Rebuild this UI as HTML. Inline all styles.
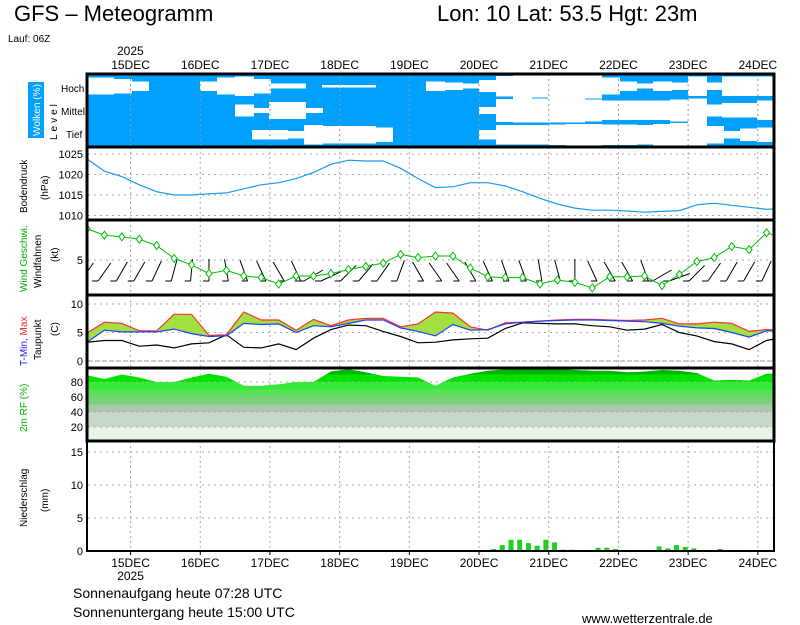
<!DOCTYPE html>
<html><head><meta charset="utf-8"><style>
html,body{margin:0;padding:0;background:#fff}
svg{display:block;font-family:"Liberation Sans",sans-serif}
</style></head><body>
<svg id="chart" width="800" height="625" viewBox="0 0 800 625" xmlns="http://www.w3.org/2000/svg">
<defs>
<clipPath id="plotclip"><rect x="88" y="74" width="685" height="478"/></clipPath>
</defs>
<text x="14" y="21" font-size="22">GFS – Meteogramm</text>
<text x="437" y="21" font-size="22">Lon: 10 Lat: 53.5 Hgt: 23m</text>
<text x="8" y="42" font-size="10">Lauf: 06Z</text>
<text x="117" y="55" font-size="12">2025</text>
<g id="labels-left" font-size="11">
<rect x="28" y="82" width="16" height="56" fill="#00a0ff"/>
<text transform="translate(40,136) rotate(-90)" fill="#fff" font-size="10" textLength="52" lengthAdjust="spacingAndGlyphs">Wolken (%)</text>
<text transform="translate(57,140) rotate(-90)" letter-spacing="3" font-size="10">Level</text>
<text x="61" y="92" font-size="10">Hoch</text>
<text x="61" y="115" font-size="10" textLength="24" lengthAdjust="spacingAndGlyphs">Mittel</text>
<text x="66" y="138" font-size="10">Tief</text>
<text transform="translate(27,213) rotate(-90)" font-size="10">Bodendruck</text>
<text transform="translate(48,200) rotate(-90)" font-size="10">(hPa)</text>
<text transform="translate(27,292) rotate(-90)" fill="#00b000" font-size="10">Wind Geschwi.</text>
<text transform="translate(41,288) rotate(-90)" font-size="10">Windfahnen</text>
<text transform="translate(58,262) rotate(-90)" font-size="10">(kt)</text>
<text transform="translate(27,366) rotate(-90)" font-size="10"><tspan fill="#2020ff">T-Min, </tspan><tspan fill="#ff2020">Max</tspan></text>
<text transform="translate(41,360) rotate(-90)" font-size="10">Taupunkt</text>
<text transform="translate(58,336) rotate(-90)" font-size="10">(C)</text>
<text transform="translate(27,432) rotate(-90)" fill="#00b000" font-size="10">2m RF (%)</text>
<text transform="translate(27,527) rotate(-90)" font-size="10">Niederschlag</text>
<text transform="translate(48,512) rotate(-90)" font-size="10">(mm)</text>
</g>
<g id="plots" clip-path="url(#plotclip)"></g>
<g id="axes"></g>
<text x="73" y="598" font-size="14">Sonnenaufgang heute 07:28 UTC</text>
<text x="73" y="617" font-size="14">Sonnenuntergang heute 15:00 UTC</text>
<text x="582" y="623" font-size="13">www.wetterzentrale.de</text>
</svg>
<script>
const hours = [0,6,12,18,24,30,36,42,48,54,60,66,72,78,84,90,96,102,108,114,120,126,132,138,144,150,156,162,168,174,180,186,192,198,204,210,216,222,228,234,240];
const dayLabels = ['15DEC','16DEC','17DEC','18DEC','19DEC','20DEC','21DEC','22DEC','23DEC','24DEC'];
const dayHours = [15,39,63,87,111,135,159,183,207,231];
const cloudHigh = [.3,.3,.4,.6,1,1,1,.6,.3,.2,.4,.8,.8,1,.9,.9,.9,1,1,1,.6,.7,.8,.5,.15,0,.05,0,0,0,.3,.6,.8,.6,.7,.2,.7,.2,.2,.2,.2];
const cloudMid = [1,1,1,1,1,1,1,1,1,.5,.8,.3,.3,.8,1,1,1,1,1,1,1,1,1,.7,.05,0,0,0,0,.1,.2,.2,.2,.2,.1,0,.5,.4,.4,.2,.2];
const cloudLow = [1,1,1,1,1,1,1,1,1,1,.6,.6,.7,.2,.3,.3,.3,.4,1,1,1,1,1,.6,.2,.2,.2,.15,.1,.1,.15,.15,.2,.1,.05,0,.3,.7,.5,.4,.4];
const pressure = [1023.8,1020.8,1019.5,1017.5,1015.8,1015,1015,1015.3,1015.5,1016.5,1017.5,1018,1019,1020.5,1022.5,1023.5,1023.3,1023.3,1021.5,1019,1016.8,1017,1018,1018,1017.2,1015.8,1014.2,1012.8,1011.8,1011.3,1011.3,1011.1,1010.8,1011,1011.2,1012.6,1013,1012.5,1012,1011.5,1011.8];
const pressureTicks = [1025,1020,1015,1010];
const windSpeed = [8.9,8.1,7.9,7.6,6.8,5.2,4.4,3.3,3.7,3,2.8,2,3,3,3.3,3.8,4.2,4.6,5.7,5.3,5.5,5.5,4,2.9,2.8,2.8,2,2.5,2.2,1.5,2.9,2.9,3,1.8,3.2,4.8,5.3,6.7,6.3,8.4,7.7];
const windLean = [35,35,30,30,25,15,5,0,-10,-20,-25,-30,-25,60,65,45,40,35,20,-30,-35,-35,-30,-25,-20,-20,-10,-15,0,-25,-30,-30,-20,60,70,45,35,30,30,25,25];
const windTicks = [5];
const tMax = [4.9,6.8,6.6,5.3,5.3,8.2,8.2,4.5,4.6,8.6,7.2,7.2,5.4,7.3,6.2,7.2,7.5,7.5,6,6.5,8.6,8.4,6,5.4,6.7,6.8,7,7.2,7.3,7.3,7.2,7.1,7.2,7.5,6.5,6.5,6.8,6.6,5.2,5.5,5.4];
const tMin = [3.3,5.4,5.1,5.1,5.1,5.6,4.8,4.3,4.4,6.6,6.4,6.5,5,6.2,6,6.6,7.2,7.2,5.8,5.2,4.4,6.4,5.4,5.5,6.5,6.8,7,7.1,7.2,7.2,7.1,7,6.9,6.6,6.1,5.8,5.7,5,4.2,5.3,5.2];
const dewPoint = [3.3,3.6,3.6,2.6,2.8,2.3,3.0,3.2,4.6,2.4,2.3,3.0,2.0,4.0,5.5,6.3,6.2,5.2,4.3,3.2,3.3,3.7,3.9,4.0,5.7,6.7,6.6,6.5,6.5,6.2,6.0,5.4,5.6,6.4,5.0,4.4,3.4,3.0,2.0,3.6,4.2];
const tempTicks = [10,5,0];
const relHum = [89,84,90,86,80,80,86,91,87,75,75,77,80,80,94,97,93,88,87,86,75,86,91,95,97,98,99,98,96,95,95,93,94,96,95,92,82,83,82,91,91];
const rhTicks = [80,60,40,20];
const precipHours = [140,143,146,149,152,155,158,161,164,167,176,179,182,197,200,203,206,209,215,218,221,224];
const precipVals = [0.3,0.9,1.7,1.7,1.2,0.8,1.7,1.3,0.2,0.2,0.5,0.5,0.3,0.7,0.4,0.9,0.6,0.4,0.1,0.3,0.1,0.1];
const precipType = ['r','r','r','r','r','r','r','r','r','r','r','r','r','r','r','r','r','r','s','s','s','s'];
const precipTicks = [15,10,5,0];

const NS='http://www.w3.org/2000/svg';
const plots=document.getElementById('plots');
const axes=document.getElementById('axes');
function mk(tag,attrs,parent){const e=document.createElementNS(NS,tag);for(const k in attrs)e.setAttribute(k,attrs[k]);(parent||plots).appendChild(e);return e;}
const X=h=>87+h*2.904;
const yP=p=>154+(1025-p)*4.1;
const yW=v=>300-8*v;
const yT=t=>361-5.7*t;
const yR=r=>442-0.75*r;
const yPr=m=>551-6.6*m;
const panels=[[74,147],[147,220],[220,295],[295,368],[368,441],[441,551]];

// clouds: blue background, white gaps centered in each layer
const cbg=mk('rect',{x:87,y:74,width:687,height:73,fill:'#00a0ff'});


const cg=mk('g',{'shape-rendering':'crispEdges'});


const layers=[cloudHigh,cloudMid,cloudLow];
const lnames=['high','mid','low'];
layers.forEach((arr,li)=>{
  const top=74+li*24.3, H=24.3, c=top+H/2;
  arr.forEach((v,i)=>{
    const x0=Math.floor(X(hours[i])-8.7), w=19, h=(1-v)*H;
    const r=mk('rect',{x:x0,y:c-h/2,width:w,height:h,fill:'#fff'},cg);
    
    
  });
});
// gridlines
panels.forEach(([a,b],pi)=>{
  dayHours.forEach(h=>{
    const l=mk('line',{x1:X(h),x2:X(h),y1:a,y2:b,stroke:pi==0?'#999':'#aaa','stroke-dasharray':'2,3'});
    
    
  });
});
function hgrid(vals,fy,name,special){
  vals.forEach(v=>{
    const l=mk('line',{x1:88,x2:773,y1:fy(v),y2:fy(v),stroke:(special&&v===0)?'#999':'#aaa','stroke-dasharray':(special&&v===0)?'5,2':'2,4'});
    
    
  });
}
hgrid(pressureTicks,yP,'pressure');hgrid(windTicks,yW,'wind');hgrid(tempTicks,yT,'temp',true);
function pts(arr,fy){return arr.map((v,i)=>X(hours[i]).toFixed(1)+','+fy(v).toFixed(1)).join(' ');}
// pressure
const pl=mk('polyline',{points:pts(pressure,yP),fill:'none',stroke:'#1a9af0','stroke-width':1.2});


// wind barbs
windLean.forEach((d,i)=>{
  const x=X(hours[i]), rad=d*Math.PI/180;
  const bx=x-11*Math.sin(rad), by=281, tx=x+11*Math.sin(rad), ty=281-22*Math.cos(rad);
  const g=mk('g',{});
  
  
  mk('line',{x1:bx,y1:by,x2:tx,y2:ty,stroke:'#000','stroke-width':1},g);
  mk('line',{x1:bx,y1:by,x2:bx-6,y2:by,stroke:'#000','stroke-width':1},g);
});
const wl=mk('polyline',{points:pts(windSpeed,yW),fill:'none',stroke:'#00c000','stroke-width':1});


windSpeed.forEach((v,i)=>{
  const x=X(hours[i]),y=yW(v);
  const m=mk('polygon',{points:`${x},${y-4} ${x+3},${y} ${x},${y+4} ${x-3},${y}`,fill:'#fff',stroke:'#00c000'});
  
  
});
// temperature
const band=mk('polygon',{points:pts(tMax,yT)+' '+tMin.map((v,i)=>[X(hours[i]).toFixed(1),yT(v).toFixed(1)].join(',')).reverse().join(' '),fill:'#a0e040'});


const dl=mk('polyline',{points:pts(dewPoint,yT),fill:'none',stroke:'#000','stroke-width':1.2});


const mxl=mk('polyline',{points:pts(tMax,yT),fill:'none',stroke:'#ff3030','stroke-width':1.2});


const mnl=mk('polyline',{points:pts(tMin,yT),fill:'none',stroke:'#2040ff','stroke-width':1.2});


// RH
const cp=mk('clipPath',{id:'rhclip'});
mk('polygon',{points:X(hours[0])+','+yR(0)+' '+pts(relHum,yR)+' '+X(hours[hours.length-1])+','+yR(0)},cp);
const rg=mk('g',{'clip-path':'url(#rhclip)'});


[[0,20,'#e8f4e8'],[20,40,'#c8d8c8'],[40,50,'#a8c8a8'],[50,60,'#78d078'],[60,70,'#58e058'],[70,80,'#38e838'],[80,90,'#00e400'],[90,101,'#00b400']].forEach(([a,b,c])=>{
  mk('rect',{x:80,y:yR(b),width:710,height:yR(a)-yR(b),fill:c},rg);
});
hgrid(rhTicks,yR,'rh');
// precip
hgrid(precipTicks.filter(v=>v>0),yPr,'precip');
precipVals.forEach((v,i)=>{
  const x=X(precipHours[i]);
  const r=mk('rect',{x:x-2.5,y:yPr(v),width:5,height:yPr(0)-yPr(v),fill:precipType[i]==='s'?'#ff4040':'#20d020'});
  
  
});
// borders
panels.forEach(([a,b],pi)=>{
  const r=mk('rect',{x:87,y:a,width:687,height:b-a,fill:'none',stroke:'#000','stroke-width':pi==5?2:3},axes);
  
  
});
// tick labels
function ylabels(vals,fy,name){vals.forEach(v=>{
  const t=mk('text',{x:83,y:fy(v)+4,'text-anchor':'end','font-size':11},axes);t.textContent=v;
  
  
});}
ylabels(pressureTicks,yP,'pressure');ylabels(windTicks,yW,'wind');ylabels(tempTicks,yT,'temp');ylabels(rhTicks,yR,'rh');ylabels(precipTicks,yPr,'precip');
dayLabels.forEach((d,i)=>{
  const x=X(dayHours[i]);
  const t1=mk('text',{x:x,y:69,'text-anchor':'middle','font-size':12},axes);t1.textContent=d;
  
  
  const t2=mk('text',{x:x,y:567,'text-anchor':'middle','font-size':12},axes);t2.textContent=d;
  
  
  const tk=mk('line',{x1:x,x2:x,y1:551,y2:555,stroke:'#000'},axes);
  
  
});
const yr=mk('text',{x:X(dayHours[0]),y:580,'text-anchor':'middle','font-size':12},axes);yr.textContent='2025';


</script>
</body></html>
